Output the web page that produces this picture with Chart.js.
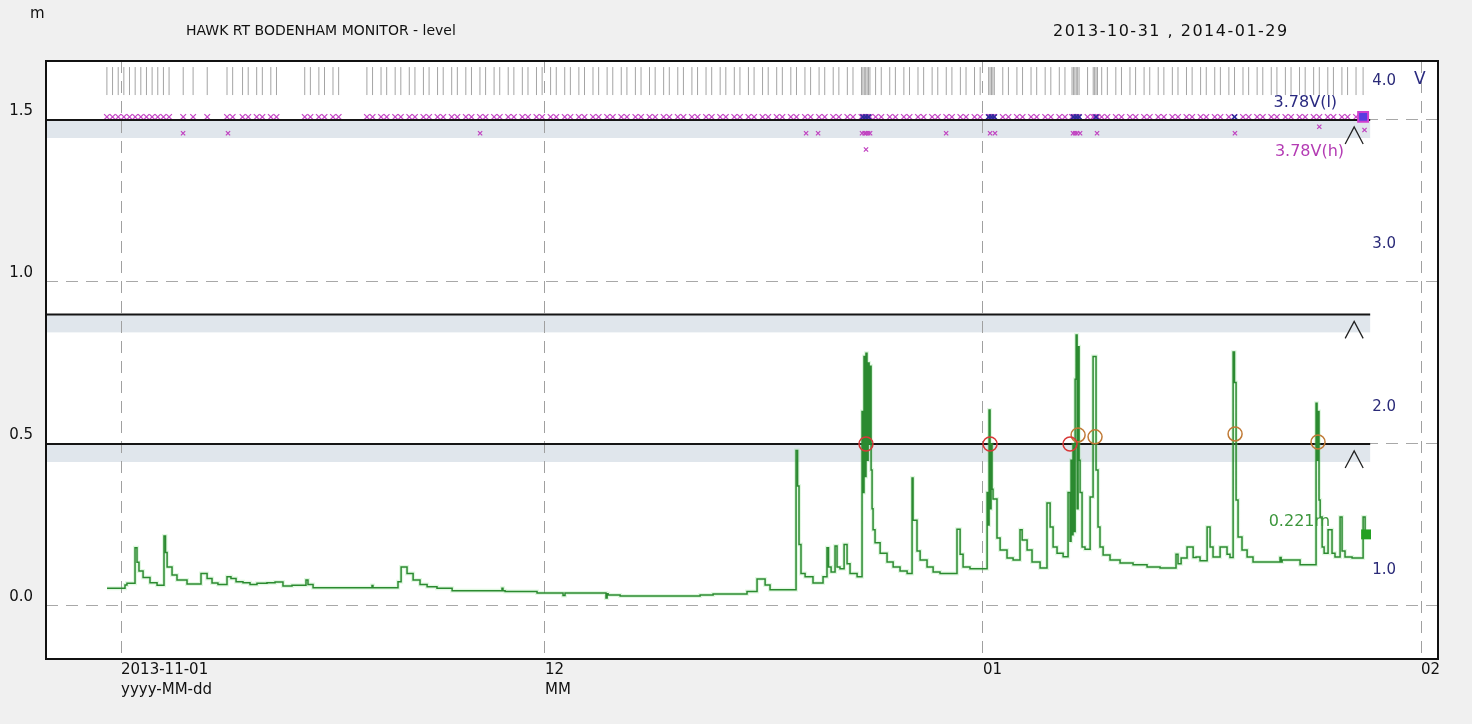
<!DOCTYPE html>
<html>
<head>
<meta charset="utf-8">
<title>HAWK RT BODENHAM MONITOR - level</title>
<script src="https://cdn.jsdelivr.net/npm/chart.js@4.4.0/dist/chart.umd.min.js"></script>
<style>
  html, body { margin: 0; padding: 0; background: #f0f0f0; }
  #wrap { position: relative; width: 1472px; height: 724px; }
  .hdr { position: absolute; font-family: "DejaVu Sans", sans-serif; font-size: 14px; color: #111; white-space: pre; }
</style>
</head>
<body>
<div id="wrap">
  <canvas id="grafico" width="1472" height="724"></canvas>
  <div class="hdr" id="unidad" style="left:30px;top:4px;font-size:15px">m</div>
  <div class="hdr" id="titulo" style="left:186px;top:22px"></div>
  <div class="hdr" id="rango" style="left:1053px;top:21px;font-size:16px;letter-spacing:1.5px"></div>
</div>
<script>
// días desde 2013-11-01
const tituloTexto = 'HAWK RT BODENHAM MONITOR - level';
const rangoTexto = '2013-10-31 , 2014-01-29';

const tickDias = [0, 30, 61, 92];
const tickEtiquetas = [['2013-11-01', 'yyyy-MM-dd'], ['12', 'MM'], ['01'], ['02']];
const ticksNivel = [0.0, 0.5, 1.0, 1.5];
const ticksVolt = [1.0, 2.0, 3.0, 4.0];

// nivel (m)
const nivelDias = [-0.99, 0.28, 0.42, 0.85, 0.99, 1.13, 1.27, 1.56, 2.05, 2.55,
  3.04, 3.15, 3.26, 3.61, 3.96, 4.67, 5.38, 5.66, 6.09, 6.44,
  6.86, 7.50, 7.78, 8.14, 8.63, 9.13, 9.62, 10.33, 10.90, 11.46,
  12.10, 13.09, 13.23, 13.59, 14.30, 17.76, 17.83, 17.90, 19.60, 19.82,
  20.24, 20.67, 21.16, 21.66, 22.36, 23.43, 23.64, 26.96, 27.03, 27.18,
  29.44, 29.65, 31.28, 31.42, 31.56, 34.32, 34.40, 34.47, 35.32, 38.64,
  40.98, 41.90, 44.30, 45.01, 45.58, 45.93, 46.43, 47.77, 47.88, 47.98,
  48.12, 48.41, 48.97, 49.68, 49.96, 50.07, 50.25, 50.53, 50.67, 50.88,
  51.17, 51.38, 51.59, 52.09, 52.44, 52.51, 52.58, 52.65, 52.72, 52.79,
  52.87, 52.94, 53.01, 53.08, 53.15, 53.22, 53.36, 53.72, 54.21, 54.64,
  55.13, 55.63, 55.98, 56.05, 56.33, 56.55, 57.04, 57.47, 57.96, 59.16,
  59.38, 59.59, 60.08, 61.29, 61.36, 61.43, 61.50, 61.57, 61.64, 61.71,
  61.99, 62.21, 62.70, 63.13, 63.62, 63.77, 64.12, 64.47, 65.04, 65.53,
  65.75, 65.96, 66.24, 66.67, 67.02, 67.16, 67.23, 67.30, 67.37, 67.44,
  67.52, 67.59, 67.66, 67.73, 67.80, 67.87, 68.01, 68.22, 68.58, 68.79,
  69.00, 69.14, 69.28, 69.50, 69.99, 70.70, 71.62, 72.61, 73.53, 74.66,
  74.80, 75.02, 75.44, 75.87, 76.08, 76.36, 76.86, 77.07, 77.28, 77.78,
  78.27, 78.48, 78.70, 78.80, 78.91, 79.05, 79.33, 79.69, 80.11, 81.10,
  82.02, 82.10, 82.17, 83.44, 84.36, 84.57, 84.64, 84.71, 84.78, 84.86,
  85.00, 85.14, 85.42, 85.70, 85.91, 86.27, 86.41, 86.62, 87.12, 87.90,
  88.04, 88.11];
const nivelM = [0.055, 0.055, 0.065, 0.07, 0.07, 0.18, 0.135, 0.108, 0.088, 0.072,
  0.064, 0.216, 0.165, 0.12, 0.096, 0.08, 0.068, 0.068, 0.1, 0.085,
  0.071, 0.066, 0.09, 0.085, 0.075, 0.072, 0.066, 0.07, 0.072, 0.074,
  0.062, 0.064, 0.08, 0.066, 0.056, 0.056, 0.063, 0.056, 0.056, 0.075,
  0.12, 0.1, 0.08, 0.066, 0.059, 0.055, 0.047, 0.047, 0.055, 0.047,
  0.045, 0.04, 0.04, 0.032, 0.04, 0.04, 0.025, 0.038, 0.034, 0.031,
  0.031, 0.034, 0.037, 0.045, 0.083, 0.065, 0.05, 0.05, 0.48, 0.37,
  0.19, 0.1, 0.09, 0.071, 0.09, 0.18, 0.12, 0.105, 0.185, 0.12,
  0.115, 0.19, 0.13, 0.1, 0.09, 0.6, 0.35, 0.77, 0.4, 0.78,
  0.45, 0.75, 0.5, 0.74, 0.42, 0.3, 0.235, 0.195, 0.163, 0.136,
  0.12, 0.108, 0.1, 0.395, 0.265, 0.17, 0.142, 0.12, 0.105, 0.1,
  0.237, 0.16, 0.12, 0.115, 0.35, 0.25, 0.605, 0.3, 0.5, 0.36,
  0.33, 0.21, 0.173, 0.148, 0.142, 0.235, 0.204, 0.173, 0.136, 0.117,
  0.318, 0.244, 0.182, 0.163, 0.152, 0.35, 0.2, 0.45, 0.22, 0.5,
  0.23, 0.7, 0.836, 0.3, 0.8, 0.45, 0.35, 0.182, 0.175, 0.336,
  0.77, 0.42, 0.244, 0.182, 0.157, 0.142, 0.133, 0.127, 0.12, 0.117,
  0.16, 0.13, 0.148, 0.182, 0.15, 0.151, 0.14, 0.244, 0.182, 0.151,
  0.182, 0.16, 0.15, 0.784, 0.69, 0.327, 0.213, 0.173, 0.151, 0.136,
  0.136, 0.15, 0.136, 0.142, 0.127, 0.127, 0.626, 0.45, 0.6, 0.327,
  0.275, 0.182, 0.163, 0.235, 0.163, 0.151, 0.275, 0.17, 0.151, 0.148,
  0.275, 0.221];

// umbrales de nivel (m)
const umbrales = [1.5, 0.9, 0.5];
const umbralFin = 88.4;

// cruces de umbral
const crucesRojoDias = [52.72, 61.50, 67.16];
const crucesRojoM = [0.5, 0.5, 0.5];
const crucesNaranjaDias = [67.73, 68.93, 78.84, 84.71];
const crucesNaranjaM = [0.528, 0.522, 0.531, 0.506];

// horas de lectura (telemetría)
const lecturasDias = [-1.0, -0.6, -0.2, 0.2, 0.6, 1.0, 1.4, 1.8, 2.2, 2.6, 3.0, 3.4,
  4.4, 5.1, 6.1,
  7.5, 7.9, 8.6, 9.0, 9.6, 10.0, 10.6, 11.0,
  13.0, 13.4, 14.0, 14.4, 15.0, 15.4,
  17.4, 17.8, 18.4, 18.8, 19.4, 19.8, 20.4, 20.8, 21.4, 21.8, 22.4, 22.8, 23.4, 23.8,
  24.4, 24.8, 25.4, 25.8, 26.4, 26.8, 27.4, 27.8, 28.4, 28.8, 29.4, 29.8, 30.4, 30.8,
  31.4, 31.8, 32.4, 32.8, 33.4, 33.8, 34.4, 34.8, 35.4, 35.8, 36.4, 36.8, 37.4, 37.8,
  38.4, 38.8, 39.4, 39.8, 40.4, 40.8, 41.4, 41.8, 42.4, 42.8, 43.4, 43.8, 44.4, 44.8,
  45.4, 45.8, 46.4, 46.8, 47.4, 47.8, 48.4, 48.8, 49.4, 49.8, 50.4, 50.8, 51.4, 51.8,
  52.4, 52.5, 52.6, 52.7, 52.8, 52.9, 53.0, 53.4, 53.8, 54.4, 54.8, 55.4, 55.8,
  56.4, 56.8, 57.4, 57.8, 58.4, 58.8, 59.4, 59.8, 60.4, 60.8,
  61.4, 61.5, 61.6, 61.7, 61.8, 62.4, 62.8, 63.4, 63.8, 64.4, 64.8, 65.4, 65.8, 66.4, 66.8,
  67.3, 67.4, 67.5, 67.6, 67.7, 67.8, 68.4, 68.8, 68.9, 69.0, 69.1, 69.4, 69.8,
  70.4, 70.8, 71.4, 71.8, 72.4, 72.8, 73.4, 73.8, 74.4, 74.8, 75.4, 75.8, 76.4, 76.8,
  77.4, 77.8, 78.4, 78.8, 79.4, 79.8, 80.4, 80.8, 81.4, 81.8, 82.4, 82.8, 83.4, 83.8,
  84.4, 84.8, 85.4, 85.8, 86.4, 86.8, 87.4, 87.9];
const lecturaMarca = 4.0;   // posición de la franja de lecturas en el eje V
const voltActual = 3.78;    // tensión de batería (V)

// lecturas de tensión fuera de la fila principal
const voltBajoDias = [52.5, 52.7, 52.9, 61.4, 61.6, 61.8, 67.4, 67.6, 67.8, 69.0, 78.8];
const voltCaidaDias = [4.39, 7.57, 25.41, 48.48, 49.33, 52.44, 52.62, 52.72, 52.87, 53.01,
  58.39, 61.50, 61.85, 67.37, 67.52, 67.66, 67.87, 69.07, 78.83, 84.8, 88.0];
const voltCaidaV = [3.68, 3.68, 3.68, 3.68, 3.68, 3.68, 3.68, 3.68, 3.68, 3.68,
  3.68, 3.68, 3.68, 3.68, 3.68, 3.68, 3.68, 3.68, 3.68, 3.72, 3.70];
const voltCaida2Dias = [52.72];
const voltCaida2V = [3.58];

const xMin = -5.31, xMax = 93.2;

document.getElementById('titulo').textContent = tituloTexto;
document.getElementById('rango').textContent = rangoTexto;

const puntos = (xs, ys) => xs.map((d, i) => ({ x: d, y: ys[i] }));
const ultimo = nivelDias.length - 1;

// fondo blanco, franjas bajo umbrales, marcas y textos
const decorado = {
  id: 'decorado',
  beforeDraw(chart) {
    const { ctx, chartArea: a, scales: { x, y } } = chart;
    ctx.save();
    ctx.fillStyle = '#ffffff';
    ctx.fillRect(a.left, a.top, a.width, a.height);
    ctx.fillStyle = '#e0e6ec';
    const xFin = x.getPixelForValue(umbralFin);
    umbrales.forEach(u => {
      const yp = y.getPixelForValue(u);
      ctx.fillRect(a.left, yp, xFin - a.left, 18);
    });
    ctx.restore();
  },
  afterDatasetsDraw(chart) {
    const { ctx, chartArea: a, scales: { x, y, v } } = chart;
    ctx.save();
    // "^" al final de cada umbral
    const cx = x.getPixelForValue(umbralFin) - 16;
    ctx.strokeStyle = '#222';
    ctx.lineWidth = 1.3;
    umbrales.forEach(u => {
      const yp = y.getPixelForValue(u);
      ctx.beginPath();
      ctx.moveTo(cx - 9, yp + 24);
      ctx.lineTo(cx, yp + 7);
      ctx.lineTo(cx + 9, yp + 24);
      ctx.stroke();
    });
    // textos de últimos valores
    ctx.font = '16px "DejaVu Sans", sans-serif';
    ctx.textBaseline = 'middle';
    ctx.textAlign = 'right';
    const xl = x.getPixelForValue(nivelDias[ultimo]);
    const yl = y.getPixelForValue(nivelM[ultimo]);
    ctx.fillStyle = '#3c963c';
    ctx.fillText(nivelM[ultimo].toFixed(3) + 'm', xl - 36, yl - 13);
    const xv = x.getPixelForValue(lecturasDias[lecturasDias.length - 1]);
    const yv = v.getPixelForValue(voltActual);
    ctx.fillStyle = '#2a2a80';
    ctx.fillText(voltActual.toFixed(2) + 'V(l)', xv - 26, yv - 14);
    ctx.fillStyle = '#b43cb4';
    ctx.fillText(voltActual.toFixed(2) + 'V(h)', xv - 19, yv + 35);
    // unidad del eje derecho
    ctx.fillStyle = '#2a2a80';
    ctx.textAlign = 'left';
    ctx.font = '17px "DejaVu Sans", sans-serif';
    ctx.fillText('V', a.right - 24, v.getPixelForValue(4.0) - 1);
    // marco
    ctx.strokeStyle = '#111';
    ctx.lineWidth = 2;
    ctx.strokeRect(a.left, a.top, a.width, a.height);
    ctx.restore();
  }
};

const fuente = { family: '"DejaVu Sans", sans-serif', size: 15 };

const ctx = document.getElementById('grafico').getContext('2d');
window.chartInstance = new Chart(ctx, {
  type: 'line',
  data: {
    datasets: [
      {
        label: 'cruces rojo',
        data: puntos(crucesRojoDias, crucesRojoM),
        yAxisID: 'y', showLine: false, order: 0,
        pointStyle: 'circle', pointRadius: 7, pointBorderWidth: 1.5,
        pointBorderColor: '#d83838', pointBackgroundColor: 'rgba(0,0,0,0)'
      },
      {
        label: 'cruces naranja',
        data: puntos(crucesNaranjaDias, crucesNaranjaM),
        yAxisID: 'y', showLine: false, order: 0,
        pointStyle: 'circle', pointRadius: 7, pointBorderWidth: 1.5,
        pointBorderColor: '#c07a36', pointBackgroundColor: 'rgba(0,0,0,0)'
      },
      {
        label: 'nivel actual',
        data: [{ x: nivelDias[ultimo], y: nivelM[ultimo] }],
        yAxisID: 'y', showLine: false, order: 1,
        pointStyle: 'rect', pointRadius: 7, pointBorderWidth: 0,
        pointBackgroundColor: '#22a022'
      },
      {
        label: 'tensión actual',
        data: [{ x: lecturasDias[lecturasDias.length - 1], y: voltActual }],
        yAxisID: 'v', showLine: false, order: 1,
        pointStyle: 'rect', pointRadius: 7, pointBorderWidth: 2,
        pointBorderColor: '#d040d0', pointBackgroundColor: '#5a3ee0'
      },
      {
        label: 'level',
        data: puntos(nivelDias, nivelM),
        yAxisID: 'y', order: 2, stepped: 'after',
        borderColor: '#2b8a30', borderWidth: 1.5, pointRadius: 0
      },
      {
        label: 'level halo',
        data: puntos(nivelDias, nivelM),
        yAxisID: 'y', order: 3, stepped: 'after',
        borderColor: 'rgba(120,225,120,0.22)', borderWidth: 4, pointRadius: 0
      },
      ...umbrales.map(u => ({
        label: 'umbral ' + u,
        data: [{ x: xMin, y: u }, { x: umbralFin, y: u }],
        yAxisID: 'y', order: 4,
        borderColor: '#151515', borderWidth: 2, pointRadius: 0
      })),
      {
        label: 'tensión (l)',
        data: voltBajoDias.map(d => ({ x: d, y: voltActual })),
        yAxisID: 'v', showLine: false, order: 5,
        pointStyle: 'crossRot', pointRadius: 3.5, pointBorderWidth: 1.5,
        pointBorderColor: '#2c2c9c'
      },
      {
        label: 'tensión (h)',
        data: lecturasDias.map(d => ({ x: d, y: voltActual })),
        yAxisID: 'v', showLine: false, order: 6,
        pointStyle: 'crossRot', pointRadius: 4, pointBorderWidth: 1.2,
        pointBorderColor: '#c648c6'
      },
      {
        label: 'tensión caídas',
        data: puntos(voltCaidaDias, voltCaidaV).concat(puntos(voltCaida2Dias, voltCaida2V)),
        yAxisID: 'v', showLine: false, order: 6,
        pointStyle: 'crossRot', pointRadius: 3, pointBorderWidth: 1.2,
        pointBorderColor: '#c040c0'
      },
      {
        label: 'lecturas',
        data: lecturasDias.map(d => ({ x: d, y: lecturaMarca })),
        yAxisID: 'v', showLine: false, order: 7,
        pointStyle: 'line', rotation: 90, pointRadius: 14, pointBorderWidth: 1,
        pointBorderColor: '#a4a4a4'
      }
    ]
  },
  options: {
    responsive: false,
    animation: false,
    layout: { padding: { top: 61, right: 34, left: 0, bottom: 0 } },
    plugins: { legend: { display: false }, tooltip: { enabled: false } },
    scales: {
      x: {
        type: 'linear', min: xMin, max: xMax,
        afterBuildTicks: s => { s.ticks = tickDias.map(d => ({ value: d })); },
        afterFit: s => { s.height = 65; },
        ticks: {
          callback: (val, i) => tickEtiquetas[i],
          align: 'start', maxRotation: 0, autoSkip: false,
          color: '#111', padding: 1, font: { ...fuente, lineHeight: 1.35 }
        },
        grid: { color: '#a0a0a0', drawTicks: false },
        border: { display: false, dash: [12, 8] }
      },
      y: {
        position: 'left', min: -0.1636, max: 1.682,
        afterBuildTicks: s => { s.ticks = ticksNivel.map(t => ({ value: t })); },
        afterFit: s => { s.width = 46; },
        ticks: {
          callback: val => val.toFixed(1),
          color: '#111', padding: 13, labelOffset: -9, font: fuente
        },
        grid: { color: '#a8a8a8', drawTicks: false },
        border: { display: false, dash: [12, 8] }
      },
      v: {
        position: 'right', min: 0.454, max: 4.123,
        afterBuildTicks: s => { s.ticks = ticksVolt.map(t => ({ value: t })); },
        afterFit: s => { s.width = 0; },
        ticks: {
          callback: val => val.toFixed(1),
          mirror: true, padding: -42, color: '#2a2a78', font: fuente
        },
        grid: { display: false, drawTicks: false },
        border: { display: false }
      }
    }
  },
  plugins: [decorado]
});
</script>
</body>
</html>
